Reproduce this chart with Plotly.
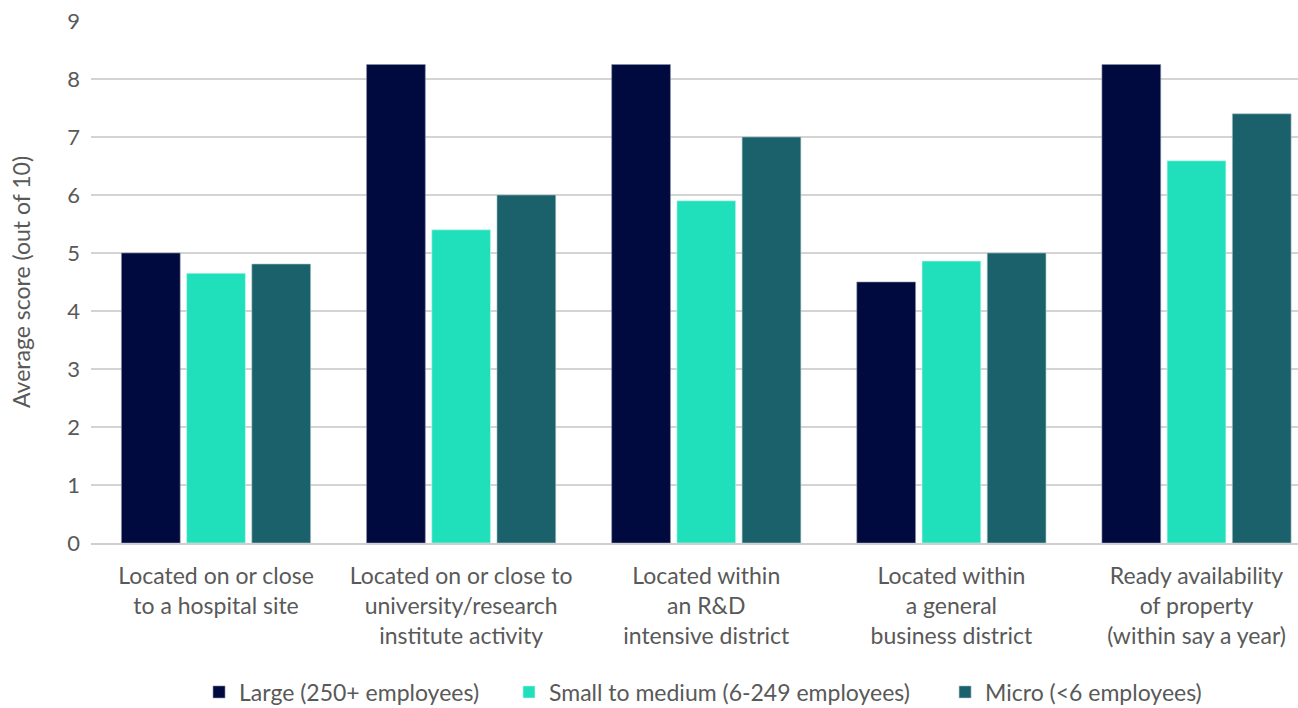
import plotly.graph_objects as go

# Location factors rated by firms of different sizes
categories = [
    "Located on or close<br>to a hospital site",
    "Located on or close to<br>university/research<br>institute activity",
    "Located within<br>an R&D<br>intensive district",
    "Located within<br>a general<br>business district",
    "Ready availability<br>of property<br>(within say a year)",
]

large = [5.0, 8.25, 8.25, 4.5, 8.25]
small_medium = [4.65, 5.4, 5.9, 4.86, 6.59]
micro = [4.81, 6.0, 7.0, 5.0, 7.4]

series_names = [
    "Large (250+ employees)",
    "Small to medium (6-249 employees)",
    "Micro (<6 employees)",
]
series_colors = ["#000a3f", "#20dfbb", "#1b616b"]
outline_colors = ["#8a8fa8", "#c8f5ec", "#a9c4c8"]
# each series gets its own legend box so the entries can be spaced freely
legend_ids = ["legend", "legend2", "legend3"]
legend_x = [0.0895, 0.3463, 0.7076]

y_ticks = list(range(0, 10))

FONT = "Lato, 'Open Sans', sans-serif"
TEXT_COLOR = "#595959"

fig = go.Figure()
for name, vals, col, ocol, lid in zip(series_names, [large, small_medium, micro],
                                      series_colors, outline_colors, legend_ids):
    fig.add_trace(go.Bar(
        x=categories, y=vals, name=name, legend=lid,
        marker=dict(color=col, line=dict(color=ocol, width=0.6)),
    ))

legend_style = dict(
    orientation="h", xanchor="left", yref="container", y=0.0226, yanchor="middle",
    font=dict(size=23, color=TEXT_COLOR), itemwidth=30,
)

fig.update_layout(
    width=1298, height=708,
    margin=dict(l=91, r=0, t=21, b=165),
    plot_bgcolor="white", paper_bgcolor="white",
    barmode="group", bargap=0.202, bargroupgap=0.099,
    font=dict(family=FONT, color=TEXT_COLOR, size=22),
    showlegend=True,
    legend=dict(x=legend_x[0], **legend_style),
    legend2=dict(x=legend_x[1], **legend_style),
    legend3=dict(x=legend_x[2], **legend_style),
    xaxis=dict(
        type="category", range=[-0.51, 4.414],
        showgrid=False, showline=True, linecolor="#cfcfcf", linewidth=1.5,
        ticks="", tickfont=dict(size=23, color=TEXT_COLOR),
        ticklabelstandoff=12,
    ),
    yaxis=dict(
        range=[0, 9], tickvals=y_ticks, showgrid=True,
        gridcolor="#d4d4d4", gridwidth=1.5, zeroline=False,
        showline=False, ticks="",
        tickfont=dict(size=22, color=TEXT_COLOR),
        ticklabelstandoff=10,
        title=dict(text="Average score (out of 10)", font=dict(size=23, color=TEXT_COLOR),
                   standoff=30),
    ),
)

fig.write_html("out.html")
